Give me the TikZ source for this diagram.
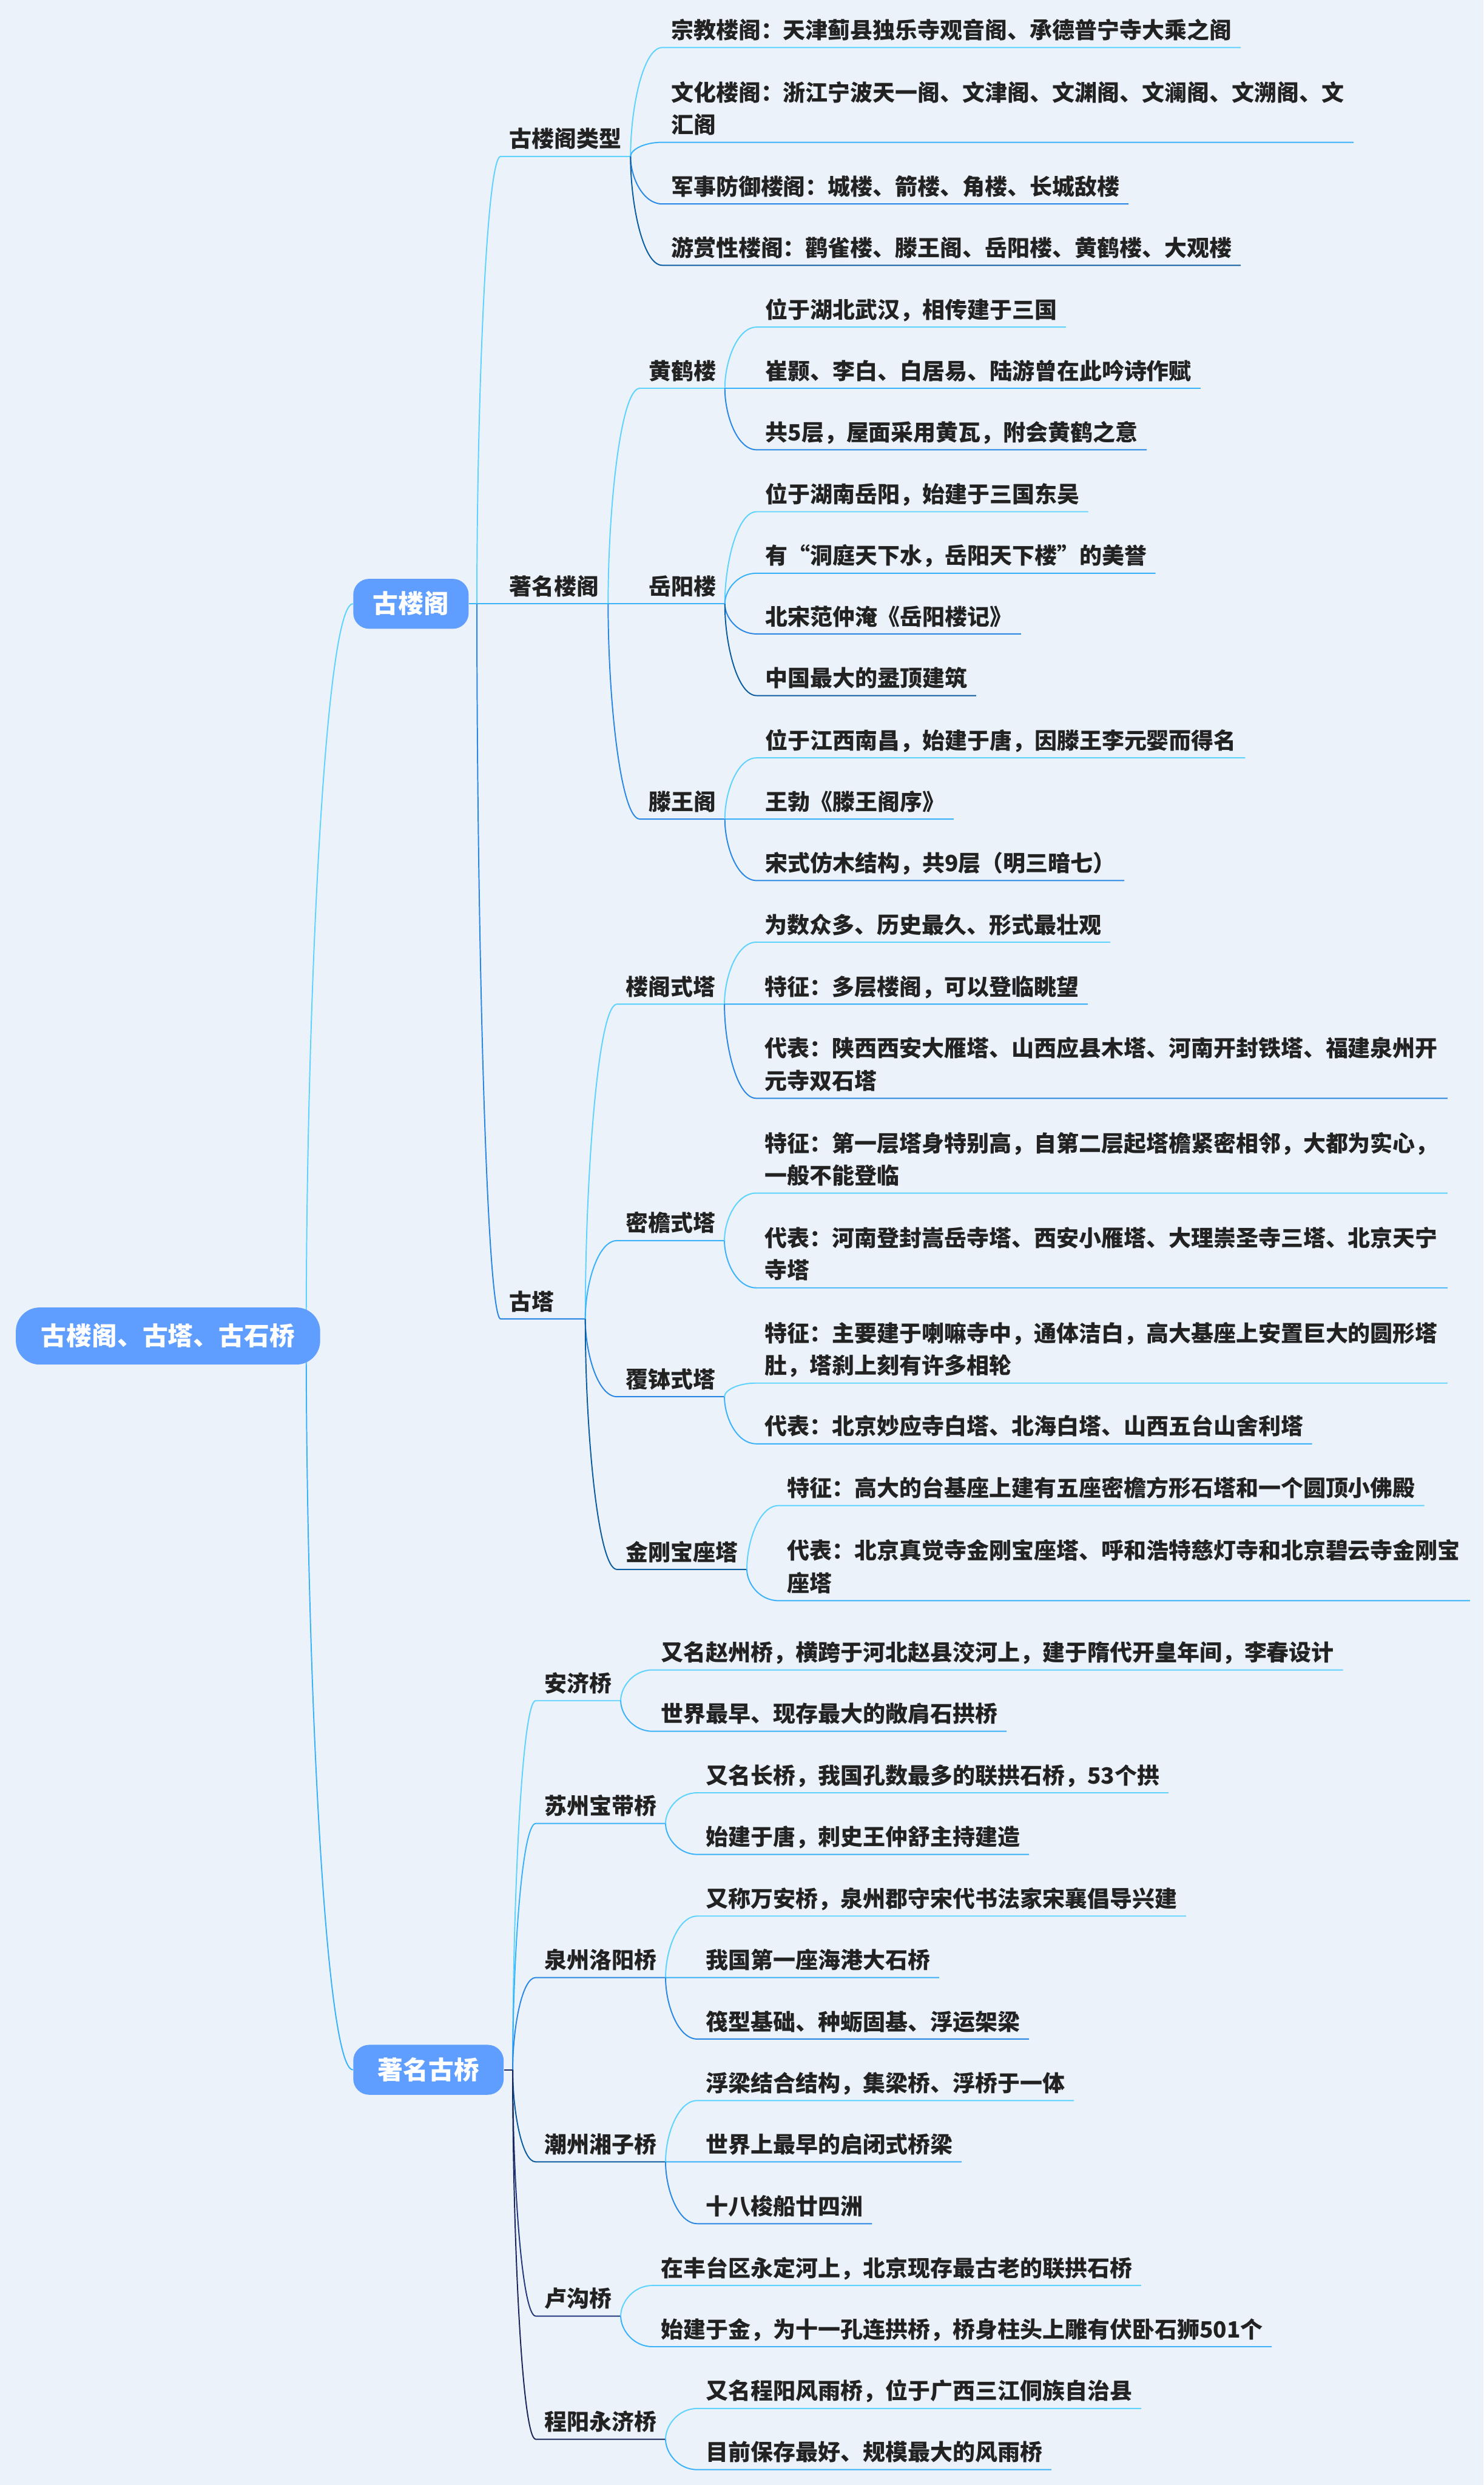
\documentclass[tikz,border=0pt]{standalone}
\usepackage{fontspec}
\setmainfont{Noto Sans CJK SC}
\usetikzlibrary{calc}
\definecolor{bgc}{HTML}{EBF2FA}
\definecolor{boxc}{HTML}{5F9EFF}
\definecolor{txt}{HTML}{222222}
\definecolor{ca}{HTML}{5DD3FE}
\definecolor{cb}{HTML}{3AB2FA}
\definecolor{cc}{HTML}{2A88E4}
\definecolor{cd}{HTML}{0C5CA0}
\definecolor{ce}{HTML}{24387C}
\definecolor{cf}{HTML}{18265C}
\pgfdeclarelayer{back}
\pgfdeclarelayer{lines}
\pgfsetlayers{back,lines,main}
\newcommand\mystrut{\rule[-3pt]{0pt}{13pt}}
\tikzset{
  topicbox/.style={fill=boxc, rounded corners=10pt, text=white,
    font=\fontsize{16}{20}\selectfont\bfseries, inner sep=0pt,
    minimum height=31.5pt, text height=13pt, text depth=1pt},
  rootbox/.style={topicbox, rounded corners=15pt, minimum height=36pt, minimum width=192pt},
  sub/.style={anchor=south west, inner xsep=5.4pt, inner ysep=2.5pt, text=txt,
    font=\fontsize{14.15}{20.5}\selectfont\bfseries,
    execute at begin node=\mystrut, execute at end node=\mystrut, align=left},
  wide/.style={text width=425pt},
  link/.style={line width=0.75pt}
}
% #1 options, #2 parent, #3 name, #4 y, #5 text
\newcommand\mmkid[5][]{\node[sub,#1] (#3) at ($(#2.south east |- 0,#4)+(20,0)$) {#5};}
% #1 start coordinate, #2 child, #3 colour
\newcommand\mmlink[3]{\begin{pgfonlayer}{lines}\draw[link,#3] (#1) .. controls ($(#1)!0.45!(#1 |- #2.south west)$) and ($(#1 |- #2.south west)!0.4!(#2.south west)$) .. (#2.south west) -- (#2.south east);\end{pgfonlayer}}
\begin{document}
\begin{tikzpicture}[x=1pt,y=-1pt]
\useasboundingbox (0,0) rectangle (936,1568);
\begin{pgfonlayer}{back}
\fill[bgc] (0,0) rectangle (936,1568);
\end{pgfonlayer}

% root and main topics
\node[rootbox] (root) at (106,843) {古楼阁、古塔、古石桥};
\node[topicbox, minimum width=72.8pt, anchor=west] (glg) at ($(root.east |- 0,381)+(20.5,0)$) {古楼阁};
\node[topicbox, minimum width=94.9pt, anchor=west] (zmgq) at ($(root.east |- 0,1306)+(20.5,0)$) {著名古桥};
\coordinate (root-out) at ($(root.east)+(-9,0)$);
\coordinate (glg-out) at ($(glg.east)+(5,0)$);
\coordinate (zmgq-out) at ($(zmgq.east)+(5.5,0)$);

% level 2 under 古楼阁
\mmkid{glg}{glglx}{98.7}{古楼阁类型}
\mmkid{glg}{zmlg}{381}{著名楼阁}
\mmkid[text width=42.2pt]{glg}{gt}{832.2}{古塔}

% 古楼阁类型
\mmkid{glglx}{a1}{30}{宗教楼阁：天津蓟县独乐寺观音阁、承德普宁寺大乘之阁}
\mmkid[wide]{glglx}{a2}{89.8}{文化楼阁：浙江宁波天一阁、文津阁、文渊阁、文澜阁、文溯阁、文\\汇阁}
\mmkid{glglx}{a3}{128.7}{军事防御楼阁：城楼、箭楼、角楼、长城敌楼}
\mmkid{glglx}{a4}{167.4}{游赏性楼阁：鹳雀楼、滕王阁、岳阳楼、黄鹤楼、大观楼}

% 著名楼阁
\mmkid{zmlg}{hhl}{245}{黄鹤楼}
\mmkid{zmlg}{yyl}{381}{岳阳楼}
\mmkid{zmlg}{twg}{516.8}{滕王阁}
\mmkid{hhl}{h1}{206.4}{位于湖北武汉，相传建于三国}
\mmkid{hhl}{h2}{245}{崔颢、李白、白居易、陆游曾在此吟诗作赋}
\mmkid{hhl}{h3}{283.8}{共5层，屋面采用黄瓦，附会黄鹤之意}
\mmkid{yyl}{y1}{322.9}{位于湖南岳阳，始建于三国东吴}
\mmkid{yyl}{y2}{361.7}{有“洞庭天下水，岳阳天下楼”的美誉}
\mmkid{yyl}{y3}{400}{北宋范仲淹《岳阳楼记》}
\mmkid{yyl}{y4}{438.9}{中国最大的盝顶建筑}
\mmkid{twg}{t1}{478.2}{位于江西南昌，始建于唐，因滕王李元婴而得名}
\mmkid{twg}{t2}{516.8}{王勃《滕王阁序》}
\mmkid{twg}{t3}{555.6}{宋式仿木结构，共9层（明三暗七）}

% 古塔
\mmkid{gt}{lgst}{633.6}{楼阁式塔}
\mmkid{gt}{myst}{782.8}{密檐式塔}
\mmkid{gt}{fbst}{881.3}{覆钵式塔}
\mmkid{gt}{jgbz}{990.3}{金刚宝座塔}
\mmkid{lgst}{l1}{594.5}{为数众多、历史最久、形式最壮观}
\mmkid{lgst}{l2}{633.6}{特征：多层楼阁，可以登临眺望}
\mmkid[wide]{lgst}{l3}{693}{代表：陕西西安大雁塔、山西应县木塔、河南开封铁塔、福建泉州开\\元寺双石塔}
\mmkid[wide]{myst}{m1}{752.8}{特征：第一层塔身特别高，自第二层起塔檐紧密相邻，大都为实心，\\一般不能登临}
\mmkid[wide]{myst}{m2}{812.6}{代表：河南登封嵩岳寺塔、西安小雁塔、大理崇圣寺三塔、北京天宁\\寺塔}
\mmkid[wide]{fbst}{f1}{872.7}{特征：主要建于喇嘛寺中，通体洁白，高大基座上安置巨大的圆形塔\\肚，塔刹上刻有许多相轮}
\mmkid{fbst}{f2}{911}{代表：北京妙应寺白塔、北海白塔、山西五台山舍利塔}
\mmkid{jgbz}{j1}{950}{特征：高大的台基座上建有五座密檐方形石塔和一个圆顶小佛殿}
\mmkid[wide]{jgbz}{j2}{1010}{代表：北京真觉寺金刚宝座塔、呼和浩特慈灯寺和北京碧云寺金刚宝\\座塔}

% 著名古桥
\mmkid{zmgq}{ajq}{1073.1}{安济桥}
\mmkid{zmgq}{szq}{1150.6}{苏州宝带桥}
\mmkid{zmgq}{qzq}{1247.8}{泉州洛阳桥}
\mmkid{zmgq}{czq}{1364.1}{潮州湘子桥}
\mmkid{zmgq}{lgq}{1461.4}{卢沟桥}
\mmkid{zmgq}{cyq}{1539.1}{程阳永济桥}
\mmkid{ajq}{b1}{1053.7}{又名赵州桥，横跨于河北赵县洨河上，建于隋代开皇年间，李春设计}
\mmkid{ajq}{b2}{1092.4}{世界最早、现存最大的敞肩石拱桥}
\mmkid{szq}{s1}{1131.2}{又名长桥，我国孔数最多的联拱石桥，53个拱}
\mmkid{szq}{s2}{1170.1}{始建于唐，刺史王仲舒主持建造}
\mmkid{qzq}{q1}{1209}{又称万安桥，泉州郡守宋代书法家宋襄倡导兴建}
\mmkid{qzq}{q2}{1247.8}{我国第一座海港大石桥}
\mmkid{qzq}{q3}{1286.6}{筏型基础、种蛎固基、浮运架梁}
\mmkid{czq}{z1}{1325.4}{浮梁结合结构，集梁桥、浮桥于一体}
\mmkid{czq}{z2}{1364.1}{世界上最早的启闭式桥梁}
\mmkid{czq}{z3}{1403.1}{十八梭船廿四洲}
\mmkid{lgq}{g1}{1442.1}{在丰台区永定河上，北京现存最古老的联拱石桥}
\mmkid{lgq}{g2}{1480.7}{始建于金，为十一孔连拱桥，桥身柱头上雕有伏卧石狮501个}
\mmkid{cyq}{k1}{1519.7}{又名程阳风雨桥，位于广西三江侗族自治县}
\mmkid{cyq}{k2}{1558.3}{目前保存最好、规模最大的风雨桥}

% connectors
\begin{pgfonlayer}{lines}
\draw[link,ca] (root-out) .. controls ($(root-out)!0.45!(root-out |- glg.west)$) and ($(root-out |- glg.west)!0.4!(glg.west)$) .. (glg.west);
\draw[link,cb] (root-out) .. controls ($(root-out)!0.45!(root-out |- zmgq.west)$) and ($(root-out |- zmgq.west)!0.4!(zmgq.west)$) .. (zmgq.west);
\draw[link,cb] (glg.east) -- (glg-out);
\draw[link,cf] (zmgq.east) -- (zmgq-out);
\end{pgfonlayer}
\mmlink{glg-out}{glglx}{ca}
\mmlink{glg-out}{zmlg}{cb}
\mmlink{glg-out}{gt}{cc}
\mmlink{glglx.south east}{a1}{ca}
\mmlink{glglx.south east}{a2}{cb}
\mmlink{glglx.south east}{a3}{cc}
\mmlink{glglx.south east}{a4}{cd}
\mmlink{zmlg.south east}{hhl}{ca}
\mmlink{zmlg.south east}{yyl}{cb}
\mmlink{zmlg.south east}{twg}{cc}
\mmlink{hhl.south east}{h1}{ca}
\mmlink{hhl.south east}{h2}{cb}
\mmlink{hhl.south east}{h3}{cc}
\mmlink{yyl.south east}{y1}{ca}
\mmlink{yyl.south east}{y2}{cb}
\mmlink{yyl.south east}{y3}{cc}
\mmlink{yyl.south east}{y4}{cd}
\mmlink{twg.south east}{t1}{ca}
\mmlink{twg.south east}{t2}{cb}
\mmlink{twg.south east}{t3}{cc}
\mmlink{gt.south east}{lgst}{ca}
\mmlink{gt.south east}{myst}{cb}
\mmlink{gt.south east}{fbst}{cc}
\mmlink{gt.south east}{jgbz}{cd}
\mmlink{lgst.south east}{l1}{ca}
\mmlink{lgst.south east}{l2}{cb}
\mmlink{lgst.south east}{l3}{cc}
\mmlink{myst.south east}{m1}{ca}
\mmlink{myst.south east}{m2}{cb}
\mmlink{fbst.south east}{f1}{ca}
\mmlink{fbst.south east}{f2}{cb}
\mmlink{jgbz.south east}{j1}{ca}
\mmlink{jgbz.south east}{j2}{cb}
\mmlink{zmgq-out}{ajq}{ca}
\mmlink{zmgq-out}{szq}{cb}
\mmlink{zmgq-out}{qzq}{cc}
\mmlink{zmgq-out}{czq}{cd}
\mmlink{zmgq-out}{lgq}{ce}
\mmlink{zmgq-out}{cyq}{cf}
\mmlink{ajq.south east}{b1}{ca}
\mmlink{ajq.south east}{b2}{cb}
\mmlink{szq.south east}{s1}{ca}
\mmlink{szq.south east}{s2}{cb}
\mmlink{qzq.south east}{q1}{ca}
\mmlink{qzq.south east}{q2}{cb}
\mmlink{qzq.south east}{q3}{cc}
\mmlink{czq.south east}{z1}{ca}
\mmlink{czq.south east}{z2}{cb}
\mmlink{czq.south east}{z3}{cc}
\mmlink{lgq.south east}{g1}{ca}
\mmlink{lgq.south east}{g2}{cb}
\mmlink{cyq.south east}{k1}{ca}
\mmlink{cyq.south east}{k2}{cb}
\end{tikzpicture}
\end{document}
